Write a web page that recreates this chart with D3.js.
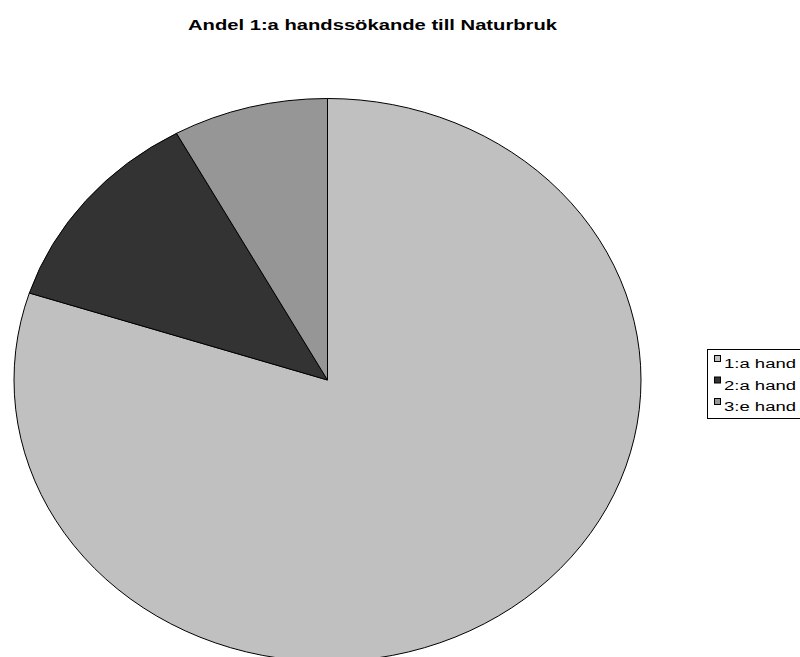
<!DOCTYPE html>
<html>
<head>
<meta charset="utf-8">
<script src="https://cdn.jsdelivr.net/npm/d3@7"></script>
<style>
  body { margin: 0; background: #fff; }
  svg { display: block; font-family: "Liberation Sans", Arial, sans-serif; }
</style>
</head>
<body>
<svg id="chart" width="800" height="657"></svg>
<script>
// Chart data
const categories = ["1:a hand", "2:a hand", "3:e hand"];
const shares = [80, 12, 8];
const colors = ["#C0C0C0", "#333333", "#969696"];
const title = "Andel 1:a handssökande till Naturbruk";

const svg = d3.select("#chart");

// Title
svg.append("text")
  .attr("x", 188)
  .attr("y", 30)
  .attr("font-size", 15)
  .attr("font-weight", "bold")
  .attr("fill", "#000")
  .attr("textLength", 369)
  .attr("lengthAdjust", "spacingAndGlyphs")
  .text(title);

// Pie: drawn as a circle then squashed into an ellipse
const rx = 313.5;
const ry = 281.5;
const data = categories.map((c, i) => ({ name: c, value: shares[i], color: colors[i] }));

const pie = d3.pie().value((d) => d.value).sort(null);
const arc = d3.arc().innerRadius(0).outerRadius(rx);

const pieGroup = svg.append("g")
  .attr("transform", `translate(327.5, 380) scale(1, ${ry / rx})`);

pieGroup.selectAll("path")
  .data(pie(data))
  .enter()
  .append("path")
  .attr("d", arc)
  .attr("fill", (d) => d.data.color)
  .attr("stroke", "#000")
  .attr("stroke-width", 1)
  .attr("vector-effect", "non-scaling-stroke");

// Legend
const legend = svg.append("g").attr("transform", "translate(707, 349)");
legend.append("rect")
  .attr("x", 0.5)
  .attr("y", 0.5)
  .attr("width", 110)
  .attr("height", 69)
  .attr("fill", "#fff")
  .attr("stroke", "#000")
  .attr("stroke-width", 1);

const rows = legend.selectAll(".row")
  .data(data)
  .enter()
  .append("g")
  .attr("class", "row")
  .attr("transform", (d, i) => `translate(0, ${i * 21.5})`);

rows.append("rect")
  .attr("x", 7.5)
  .attr("y", 6.5)
  .attr("width", 6)
  .attr("height", 6)
  .attr("fill", (d) => d.color)
  .attr("stroke", "#000")
  .attr("stroke-width", 1);

rows.append("text")
  .attr("x", 17)
  .attr("y", 19)
  .attr("font-size", 12)
  .attr("fill", "#000")
  .attr("textLength", 72)
  .attr("lengthAdjust", "spacingAndGlyphs")
  .text((d) => d.name);
</script>
</body>
</html>
